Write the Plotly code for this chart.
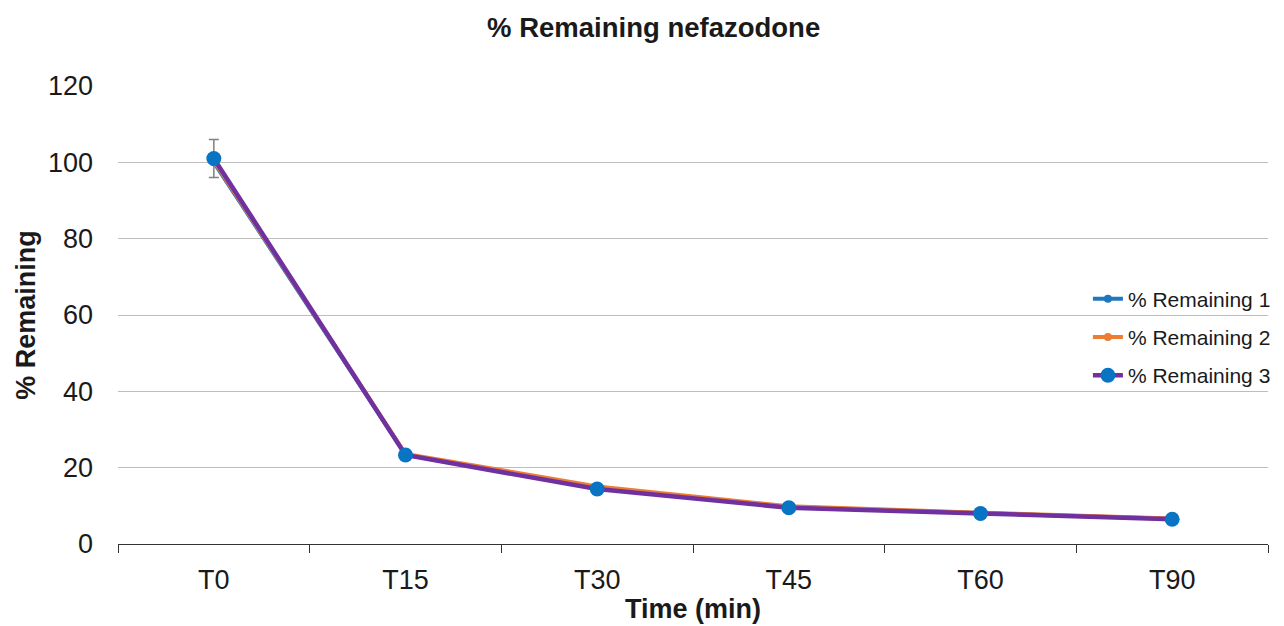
import plotly.graph_objects as go

categories = ["T0", "T15", "T30", "T45", "T60", "T90"]
remaining_1 = [100.0, 23.4, 14.6, 9.7, 8.1, 6.6]
remaining_2 = [100.4, 23.6, 15.1, 9.9, 8.2, 6.7]
remaining_3 = [101.0, 23.3, 14.4, 9.5, 8.0, 6.5]
error_3 = [5.0, 0.4, 0.4, 0.3, 0.3, 0.3]
series_names = ["% Remaining 1", "% Remaining 2", "% Remaining 3"]

FONT = "Liberation Sans, Arial, sans-serif"
TXT = "#1a1a1a"

fig = go.Figure()
fig.add_trace(go.Scatter(
    x=categories, y=remaining_1, name=series_names[0], mode="lines+markers",
    legendgroup="g1",
    line=dict(color="#1f77c0", width=4), marker=dict(color="#1f77c0", size=8)))
fig.add_trace(go.Scatter(
    x=categories, y=remaining_2, name=series_names[1], mode="lines+markers",
    legendgroup="g2",
    line=dict(color="#ED7D31", width=4), marker=dict(color="#ED7D31", size=8)))
fig.add_trace(go.Scatter(
    x=categories, y=remaining_3, name=series_names[2], mode="lines+markers",
    legendgroup="g3",
    line=dict(color="#7030A0", width=4.5), marker=dict(color="#0a74c4", size=15),
    error_y=dict(type="data", array=error_3, visible=True, color="#808080",
                 thickness=1.5, width=5)))

fig.update_layout(
    width=1276, height=618,
    paper_bgcolor="white", plot_bgcolor="white",
    margin=dict(l=110, r=16, t=78, b=82, autoexpand=False),
    title=dict(text="<b>% Remaining nefazodone</b>", x=0.506, xanchor="center",
               y=0.968, yanchor="middle",
               font=dict(family=FONT, size=27.5, color=TXT)),
    font=dict(family=FONT, color=TXT),
    showlegend=True,
    legend=dict(x=0.8434, xanchor="left", y=0.452, yanchor="middle",
                bgcolor="rgba(0,0,0,0)", font=dict(family=FONT, size=21, color=TXT),
                tracegroupgap=8, itemwidth=30),
    xaxis=dict(
        type="category", tickson="boundaries", ticks="outside", ticklen=8,
        tickcolor="#333333", showline=True, linecolor="#333333", linewidth=1,
        showgrid=False, tickfont=dict(size=27, color=TXT), ticklabelstandoff=12,
        title=dict(text="<b>Time (min)</b>", font=dict(size=27, color=TXT), standoff=4),
        range=[-0.5, 5.5]),
    yaxis=dict(
        range=[0, 120], dtick=20, showgrid=True, gridcolor="#bdbdbd", gridwidth=1,
        showline=False, zeroline=False, ticks="", ticklen=0,
        tickfont=dict(size=27, color=TXT), ticklabelstandoff=24,
        title=dict(text="<b>% Remaining</b>", font=dict(size=27, color=TXT), standoff=4)),
)

fig.write_html("out.html")
